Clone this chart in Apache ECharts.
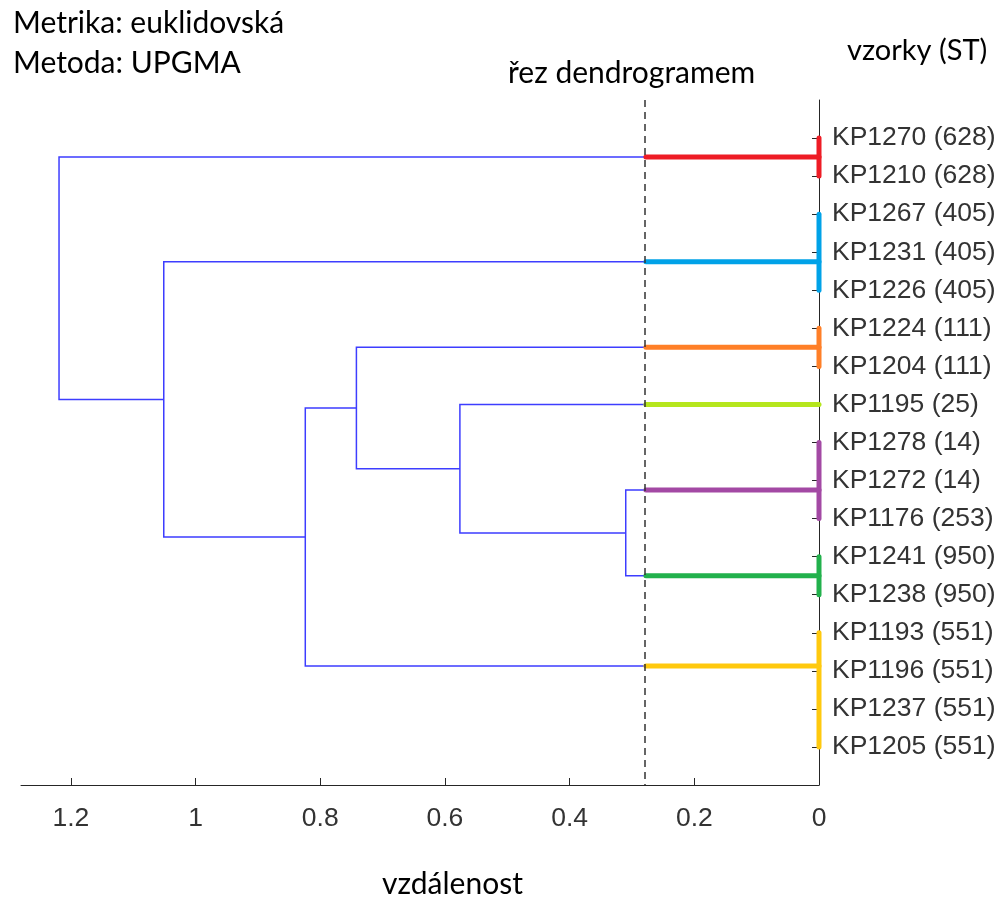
<!DOCTYPE html>
<html>
<head>
<meta charset="utf-8">
<title>Dendrogram</title>
<script src="https://cdn.jsdelivr.net/npm/echarts@6/dist/echarts.min.js"></script>
<style>
  html, body { margin: 0; padding: 0; background: #fff; }
  #main { width: 1004px; height: 901px; }
</style>
</head>
<body>
<div id="main"></div>
<script>
// leaf labels, top to bottom
var leaves = [
    'KP1270 (628)', 'KP1210 (628)', 'KP1267 (405)', 'KP1231 (405)', 'KP1226 (405)',
    'KP1224 (111)', 'KP1204 (111)', 'KP1195 (25)', 'KP1278 (14)', 'KP1272 (14)',
    'KP1176 (253)', 'KP1241 (950)', 'KP1238 (950)', 'KP1193 (551)', 'KP1196 (551)',
    'KP1237 (551)', 'KP1205 (551)'
];

// clusters under the cut: first / last leaf and the node position (in leaf units)
var clusterFirst = [0, 2, 5, 7, 8, 11, 13];
var clusterLast = [1, 4, 6, 7, 10, 12, 16];
var clusterPos = [0.5, 3.25, 5.5, 7, 9.25, 11.5, 13.875];
var clusterColors = ['#ee1c25', '#00a2e8', '#ff7f27', '#b5e61d', '#a349a4', '#22b14c', '#ffc90e'];

// merges above the cut; nodes 0-6 are the clusters, merge k creates node 7 + k
var mergeLeft = [4, 3, 2, 9, 1, 0];
var mergeRight = [5, 7, 8, 6, 10, 11];
var mergeHeight = [0.31, 0.576, 0.742, 0.824, 1.051, 1.219];

var cutHeight = 0.2776;
var xTicks = [0, 0.2, 0.4, 0.6, 0.8, 1, 1.2];

var nodePos = clusterPos.slice();
var nodeHeight = clusterPos.map(function () { return cutHeight; });
var treeLinks = [];
for (var k = 0; k < mergeHeight.length; k++) {
    var l = mergeLeft[k], r = mergeRight[k], h = mergeHeight[k];
    treeLinks.push({
        coords: [[nodeHeight[l], nodePos[l]], [h, nodePos[l]], [h, nodePos[r]], [nodeHeight[r], nodePos[r]]]
    });
    nodePos.push((nodePos[l] + nodePos[r]) / 2);
    nodeHeight.push(h);
}

var clusterLinks = [];
for (var i = 0; i < clusterPos.length; i++) {
    clusterLinks.push({
        coords: [[0, clusterPos[i]], [cutHeight, clusterPos[i]]],
        lineStyle: { color: clusterColors[i] }
    });
    if (clusterFirst[i] !== clusterLast[i]) {
        clusterLinks.push({
            coords: [[0, clusterFirst[i]], [0, clusterLast[i]]],
            lineStyle: { color: clusterColors[i] }
        });
    }
}

var leafIdx = leaves.map(function (_, i) { return i; });

var chart = echarts.init(document.getElementById('main'));
chart.setOption({
    animation: false,
    grid: { left: 21, right: 185, top: 100, bottom: 116 },
    xAxis: {
        type: 'value',
        inverse: true,
        min: 0,
        max: 1.28,
        interval: 0.2,
        splitLine: { show: false },
        axisLine: { onZero: false, lineStyle: { color: '#262626', width: 1 } },
        axisTick: { inside: true, length: 7, customValues: xTicks, lineStyle: { color: '#262626' } },
        axisLabel: {
            customValues: xTicks,
            margin: 20,
            fontFamily: 'Liberation Sans',
            fontSize: 26.5,
            color: '#333'
        }
    },
    yAxis: {
        type: 'value',
        inverse: true,
        position: 'right',
        min: -1,
        max: 17,
        interval: 1,
        splitLine: { show: false },
        axisLine: { onZero: false, lineStyle: { color: '#262626', width: 1 } },
        axisTick: { inside: true, length: 7, customValues: leafIdx, lineStyle: { color: '#262626' } },
        axisLabel: {
            customValues: leafIdx,
            margin: 13,
            padding: [6, 0, 0, 0],
            fontFamily: 'Liberation Sans',
            fontSize: 26.5,
            color: '#333',
            formatter: function (v) { return leaves[v] || ''; }
        }
    },
    graphic: [
        { type: 'text', left: 13, top: 8, style: { text: 'Metrika: euklidovská', font: '30px Lato', fill: '#000' } },
        { type: 'text', left: 13, top: 48, style: { text: 'Metoda: UPGMA', font: '30px Lato', fill: '#000' } },
        { type: 'text', left: 508, top: 58, style: { text: 'řez dendrogramem', font: '30px Lato', fill: '#000' } },
        { type: 'text', left: 847, top: 36, style: { text: 'vzorky (ST)', font: '29px Lato', fill: '#000' } },
        { type: 'text', left: 382, top: 869, style: { text: 'vzdálenost', font: '30px Lato', fill: '#000' } }
    ],
    series: [
        {
            type: 'lines',
            coordinateSystem: 'cartesian2d',
            polyline: true,
            silent: true,
            z: 2,
            lineStyle: { color: '#3d3dff', width: 1.5, opacity: 1 },
            data: treeLinks,
            markLine: {
                silent: true,
                symbol: ['none', 'none'],
                label: { show: false },
                lineStyle: { type: [7, 5], color: '#333', width: 1.5 },
                data: [{ xAxis: cutHeight }]
            }
        },
        {
            type: 'lines',
            coordinateSystem: 'cartesian2d',
            polyline: true,
            silent: true,
            z: 3,
            lineStyle: { width: 5, opacity: 1, cap: 'round' },
            data: clusterLinks
        }
    ]
});
</script>
</body>
</html>
